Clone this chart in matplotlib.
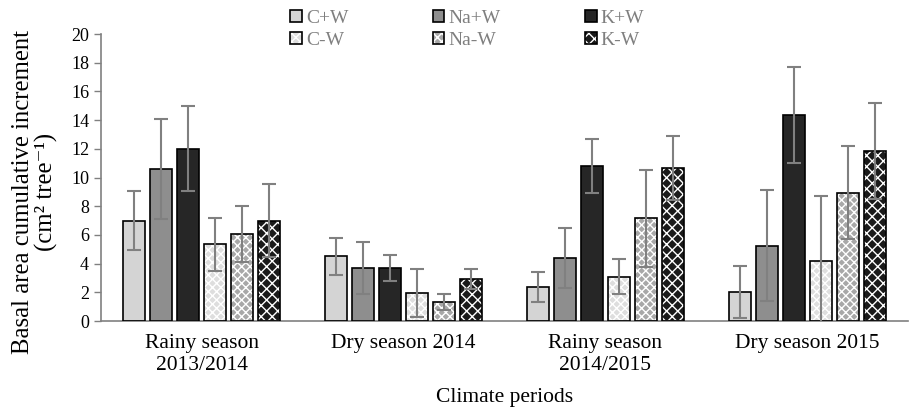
import numpy as np
import matplotlib
matplotlib.use("Agg")
import matplotlib.pyplot as plt
from matplotlib.legend_handler import HandlerTuple

plt.rcParams["font.family"] = ["Liberation Serif", "DejaVu Serif"]
plt.rcParams["hatch.linewidth"] = 1.0

periods = ["Rainy season\n2013/2014", "Dry season 2014",
           "Rainy season\n2014/2015", "Dry season 2015"]
treatments = ["C+W", "Na+W", "K+W", "C-W", "Na-W", "K-W"]

# mean basal area increment per treatment, one value per period
c_w = [7.0, 4.5, 2.35, 2.0]
na_w = [10.6, 3.7, 4.4, 5.25]
k_w = [12.0, 3.7, 10.8, 14.35]
c_nw = [5.35, 1.95, 3.1, 4.2]
na_nw = [6.05, 1.35, 7.15, 8.95]
k_nw = [7.0, 2.95, 10.65, 11.85]

# standard deviation
c_w_err = [2.05, 1.3, 1.05, 1.8]
na_w_err = [3.5, 1.8, 2.1, 3.85]
k_w_err = [2.95, 0.9, 1.85, 3.35]
c_nw_err = [1.85, 1.65, 1.2, 4.5]
na_nw_err = [1.95, 0.55, 3.4, 3.25]
k_nw_err = [2.55, 0.7, 2.25, 3.35]

means = [c_w, na_w, k_w, c_nw, na_nw, k_nw]
errors = [c_w_err, na_w_err, k_w_err, c_nw_err, na_nw_err, k_nw_err]
fills = ["#d4d4d4", "#8e8e8e", "#262626", "#dedede", "#a8a8a8", "#1a1a1a"]
hatches = [None, None, None, "xxxx", "xxxx", "xxx"]

fig = plt.figure(figsize=(9.09, 4.15), dpi=100)
ax = fig.add_axes([0.111, 0.2265, 0.888, 0.6915])

x = np.arange(len(periods)) + 0.5
step = 0.134
width = 0.109

handles = []
for i, (vals, errs) in enumerate(zip(means, errors)):
    pos = x + (i - 2.5) * step
    face = ax.bar(pos, vals, width, color=fills[i], hatch=hatches[i],
                  edgecolor="white", linewidth=0, zorder=2)
    edge = ax.bar(pos, vals, width, fill=False, edgecolor="black",
                  linewidth=1.2, zorder=3)
    ax.errorbar(pos, vals, yerr=errs, fmt="none", ecolor="#808080",
                elinewidth=1.5, capsize=5, capthick=1.5, zorder=4)
    handles.append((face.patches[0], edge.patches[0]))

ax.set_xlim(0, 4)
ax.set_ylim(0, 20)
ax.set_yticks(range(0, 21, 2))
ax.set_xticks(x)
ax.set_xticklabels(periods, fontsize=15.5, linespacing=1.25)
ax.tick_params(axis="x", length=0, pad=9)
ax.tick_params(axis="y", labelsize=13, length=5, color="#808080", width=1)

for side in ["top", "right"]:
    ax.spines[side].set_visible(False)
for side in ["left", "bottom"]:
    ax.spines[side].set_color("#808080")
    ax.spines[side].set_linewidth(1.2)

ax.set_ylabel("Basal area cumulative increment\n(cm\u00b2 tree\u207b\u00b9)",
              fontsize=17.8, linespacing=1.05)
ax.yaxis.set_label_coords(-0.053, 0.45)
ax.set_xlabel("Climate periods", fontsize=15.5, labelpad=9)

order = [0, 3, 1, 4, 2, 5]
leg = fig.legend([handles[i] for i in order], [treatments[i] for i in order],
                 ncol=3, loc="upper left", bbox_to_anchor=(0.315, 0.985),
                 frameon=False, fontsize=14, handlelength=0.6,
                 handleheight=0.6, handletextpad=0.2, columnspacing=4.35,
                 labelspacing=0.25, borderaxespad=0, borderpad=0.2,
                 handler_map={tuple: HandlerTuple(ndivide=1, pad=0)})
for t in leg.get_texts():
    t.set_color("#7f7f7f")

fig.savefig("out.png", dpi=100)
